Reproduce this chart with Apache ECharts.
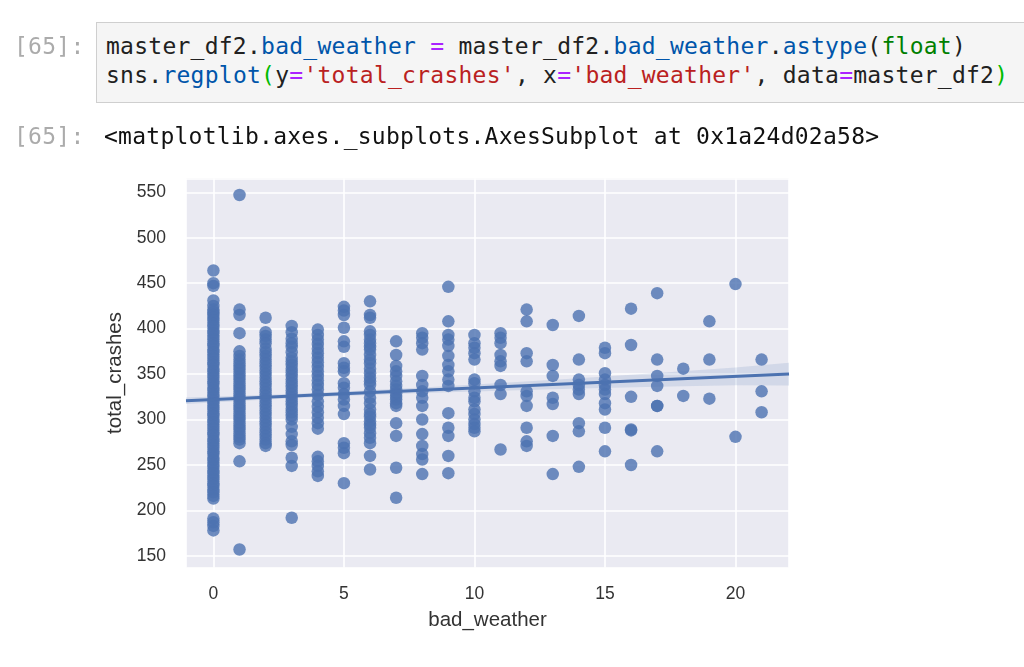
<!DOCTYPE html>
<html>
<head>
<meta charset="utf-8">
<script src="https://cdn.jsdelivr.net/npm/echarts@6/dist/echarts.min.js"></script>
<style>
  body { margin: 0; background: #fff; }
  #page { position: relative; width: 1024px; height: 667px; overflow: hidden; }
  #chart { position: absolute; left: 0; top: 0; width: 1024px; height: 667px; }
  .mono { font-family: 'DejaVu Sans Mono', monospace; font-size: 23px; line-height: 29px; letter-spacing: 0.25px; white-space: pre; }
  .prompt { position: absolute; left: 14px; color: #ababab; }
  .cell { position: absolute; left: 96px; top: 22px; width: 940px; height: 81px; box-sizing: border-box;
          padding: 9px 0 0 9px; background: #f5f5f5; border: 1px solid #cfcfcf; color: #212121; }
  .out { position: absolute; left: 104px; top: 122px; color: #111; }
  .p { color: #0055aa; }
  .o { color: #aa22ff; }
  .b { color: #008000; }
  .s { color: #ba2121; }
  .m { color: #00bb00; }
</style>
</head>
<body>
<div id="page">
  <div id="chart"></div>
  <div class="mono prompt" style="top:32px">[65]:</div>
  <div class="mono cell">master_df2.<span class="p">bad_weather</span> <span class="o">=</span> master_df2.<span class="p">bad_weather</span>.<span class="p">astype</span>(<span class="b">float</span>)
sns.<span class="p">regplot</span><span class="m">(</span>y<span class="o">=</span><span class="s">'total_crashes'</span>, x<span class="o">=</span><span class="s">'bad_weather'</span>, data<span class="o">=</span>master_df2<span class="m">)</span></div>
  <div class="mono prompt" style="top:122px">[65]:</div>
  <div class="mono out">&lt;matplotlib.axes._subplots.AxesSubplot at 0x1a24d02a58&gt;</div>
</div>
<script>
// bad_weather values (x) and the total_crashes
const weatherDays = [0, 1, 2, 3, 4, 5, 6, 7, 8, 9, 10, 11, 12, 13, 14, 15, 16, 17, 18, 19, 20, 21]

const crashesByDay = [
    [464, 450, 447, 431, 425, 421, 418, 415, 412, 409, 405, 402, 398, 395, 391, 388, 384, 381, 377, 374,
     370, 367, 363, 360, 356, 353, 349, 346, 342, 339, 335, 332, 328, 325, 321, 318, 314, 311, 307, 304,
     300, 297, 293, 290, 286, 283, 279, 276, 272, 269, 265, 262, 258, 255, 251, 248, 244, 241, 237, 234,
     230, 227, 223, 220, 216, 213, 191, 187, 183, 178],
    [547, 421, 415, 395, 375, 370, 366, 362, 358, 355, 351, 347, 344, 340, 336, 333, 329, 325, 322, 318,
     314, 311, 307, 303, 300, 296, 292, 289, 285, 281, 278, 274, 254, 157],
    [412, 396, 392, 388, 384, 378, 374, 370, 366, 362, 358, 354, 350, 346, 342, 338, 334, 330, 326, 322,
     318, 314, 310, 306, 302, 298, 294, 290, 286, 282, 278, 274, 271],
    [403, 396, 389, 384, 380, 374, 368, 364, 360, 356, 352, 348, 344, 340, 336, 332, 328, 324, 320, 316,
     312, 308, 304, 300, 292, 284, 276, 272, 258, 249, 192],
    [399, 393, 388, 383, 378, 373, 368, 363, 358, 353, 348, 343, 338, 333, 327, 320, 314, 308, 302, 296,
     290, 259, 254, 249, 243, 238],
    [424, 420, 415, 401, 386, 380, 362, 357, 353, 340, 335, 328, 322, 315, 306, 274, 269, 263, 230],
    [430, 415, 412, 397, 393, 388, 384, 380, 377, 371, 366, 362, 356, 351, 346, 342, 338, 331, 324, 318,
     311, 306, 303, 298, 294, 291, 285, 280, 274, 260, 245],
    [386, 371, 359, 353, 348, 342, 337, 333, 329, 325, 322, 318, 315, 296, 282, 247, 214],
    [395, 390, 384, 377, 348, 338, 331, 324, 315, 300, 284, 271, 262, 256, 240],
    [446, 408, 393, 388, 381, 370, 360, 353, 344, 337, 307, 291, 282, 260, 241],
    [393, 384, 379, 373, 366, 344, 340, 331, 324, 320, 311, 306, 300, 295, 291, 287],
    [395, 390, 384, 371, 364, 359, 338, 328, 267],
    [421, 408, 373, 364, 331, 326, 315, 291, 276, 271],
    [404, 360, 348, 324, 317, 282, 240],
    [414, 366, 344, 338, 333, 328, 296, 287, 248],
    [379, 373, 351, 344, 338, 333, 328, 318, 311, 291, 265],
    [422, 382, 325, 289, 288, 250],
    [439, 366, 348, 337, 315, 315, 265],
    [356, 326],
    [408, 366, 323],
    [449, 281],
    [366, 331, 308]
]

// fitted line end points and the confidence band
const regX = [-1.05, 22.05]
const regY = [320.7, 350.0]

const bandX = [-1.05, 1, 3, 5, 8, 11, 14, 17, 20, 22.05]
const bandHigh = [324.2, 326.1, 328.2, 330.8, 335.2, 340.2, 345.5, 351.1, 357.2, 362.5]
const bandLow = [317.2, 320.5, 323.4, 326.0, 329.2, 331.8, 334.1, 336.1, 337.6, 337.5]

const xTicks = [0, 5, 10, 15, 20]
const yTicks = [150, 200, 250, 300, 350, 400, 450, 500, 550]

const points = []
weatherDays.forEach((d, i) => {
    crashesByDay[i].forEach(c => points.push([d, c]))
})

const blue = '#4c72b0'
const textColor = '#333'
const font = 'Liberation Sans'

let myChart = echarts.init(document.getElementById('chart'))

myChart.setOption({
    animation: false,
    grid: {
        left: 186,
        top: 178.3,
        width: 603,
        height: 389.4,
        show: true,
        backgroundColor: '#eaeaf2',
        borderWidth: 0
    },
    xAxis: {
        type: 'value',
        min: -1.05,
        max: 22.05,
        minInterval: 5,
        maxInterval: 5,
        name: 'bad_weather',
        nameLocation: 'middle',
        nameGap: 42,
        nameTextStyle: { fontFamily: font, fontSize: 20.5, color: textColor },
        axisLine: { show: false },
        axisTick: { show: false },
        axisLabel: {
            fontFamily: font,
            fontSize: 17.5,
            color: textColor,
            margin: 17,
            formatter: v => (xTicks.indexOf(v) >= 0 ? String(v) : '')
        },
        splitLine: { lineStyle: { color: '#ffffff', width: 1.6 } }
    },
    yAxis: {
        type: 'value',
        min: 137,
        max: 565.4,
        minInterval: 50,
        maxInterval: 50,
        name: 'total_crashes',
        nameLocation: 'middle',
        nameGap: 58,
        nameRotate: 90,
        nameTextStyle: { fontFamily: font, fontSize: 20.5, color: textColor },
        axisLine: { show: false },
        axisTick: { show: false },
        axisLabel: {
            fontFamily: font,
            fontSize: 17.5,
            color: textColor,
            margin: 20,
            formatter: v => (yTicks.indexOf(v) >= 0 ? String(v) : '')
        },
        splitLine: { lineStyle: { color: '#ffffff', width: 1.6 } }
    },
    series: [
        {
            type: 'scatter',
            data: points,
            symbolSize: 12.5,
            itemStyle: { color: blue, opacity: 0.8 },
            silent: true
        },
        {
            type: 'custom',
            data: bandX.map((x, i) => [x, bandLow[i], bandHigh[i]]),
            encode: { x: 0, y: [1, 2] },
            silent: true,
            renderItem: (params, api) => {
                if (params.dataIndex !== 0) return
                const pts = []
                for (let i = 0; i < bandX.length; i++) pts.push(api.coord([bandX[i], bandHigh[i]]))
                for (let i = bandX.length - 1; i >= 0; i--) pts.push(api.coord([bandX[i], bandLow[i]]))
                return {
                    type: 'polygon',
                    shape: { points: pts },
                    style: { fill: blue, opacity: 0.15 }
                }
            }
        },
        {
            type: 'line',
            data: regX.map((x, i) => [x, regY[i]]),
            showSymbol: false,
            silent: true,
            lineStyle: { color: blue, width: 3 }
        }
    ]
})
</script>
</body>
</html>
